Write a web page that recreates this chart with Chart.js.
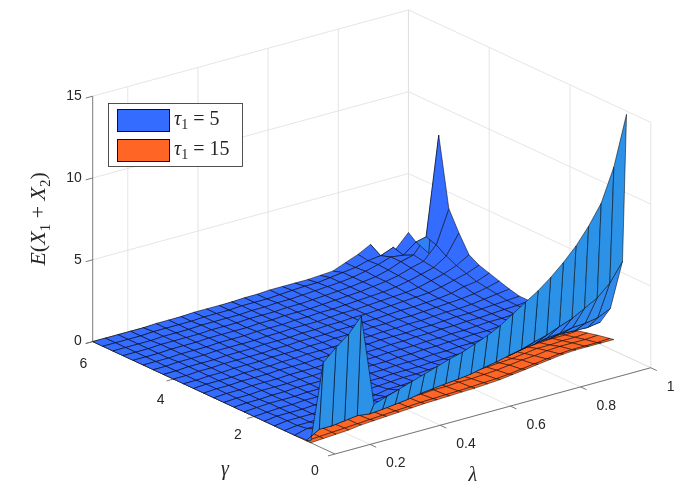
<!DOCTYPE html>
<html>
<head>
<meta charset="utf-8">
<title>E(X1+X2) surface</title>
<script src="https://cdn.jsdelivr.net/npm/chart.js@4.4.1/dist/chart.umd.min.js"></script>
<style>
  html, body { margin: 0; padding: 0; background: #ffffff; }
  #wrap { width: 694px; height: 501px; }
</style>
</head>
<body>
<div id="wrap"><canvas id="surfChart" width="694" height="501"></canvas></div>
<script>
// ======================================
// DATA
// ======================================

const lambdaValues = [0.100, 0.136, 0.172, 0.208, 0.244, 0.280, 0.316, 0.352, 0.388, 0.424,
                      0.460, 0.496, 0.532, 0.568, 0.604, 0.640, 0.676, 0.712, 0.748, 0.784,
                      0.820, 0.856, 0.892, 0.928, 0.964, 1.000];

const gammaValues = [0.6, 0.7, 1.0, 1.25, 1.5, 1.75, 2.0, 2.25, 2.5, 2.75, 3.0, 3.25,
                     3.5, 3.75, 4.0, 4.25, 4.5, 4.75, 5.0, 5.25, 5.5, 5.75, 6.0];

const tauValues = [5, 15];

// E(X1+X2) for tau1 = 5, one row per gamma value, one column per lambda value
const eTau5 = [
  [0.1,4.7,5.4,6.0,6.9,1.3,1.55,1.8,2.05,2.3,2.55,2.8,3.0,3.3,3.6,4.0,4.5,5.0,5.5,6.1,6.8,7.6,8.6,9.8,11.8,14.8],
  [0.05,0.5,0.5,0.6,0.7,0.6,0.67,0.76,0.85,1.0,1.09,1.18,1.25,1.35,1.52,1.66,1.84,2.01,2.25,2.46,2.77,3.05,3.47,3.89,4.59,5.7],
  [0.0,0.2,0.2,0.25,0.3,0.43,0.46,0.49,0.54,0.74,0.77,0.85,0.92,1.01,1.18,1.26,1.34,1.3,1.45,1.57,1.74,1.8,1.95,1.99,2.13,2.48],
  [0.0,0.1,0.1,0.15,0.2,0.34,0.35,0.36,0.39,0.58,0.59,0.65,0.71,0.77,0.93,0.97,1.01,0.93,1.02,1.07,1.2,1.2,1.3,1.26,1.24,1.36],
  [0.0,0.1,0.1,0.1,0.2,0.2,0.2,0.2,0.2,0.35,0.35,0.4,0.45,0.5,0.65,0.7,0.75,0.7,0.78,0.82,0.92,0.9,0.88,0.85,0.9,1.05],
  [0.0,0.1,0.1,0.1,0.15,0.2,0.2,0.2,0.2,0.25,0.3,0.35,0.35,0.4,0.45,0.55,0.55,0.55,0.6,0.65,0.7,0.7,0.7,0.75,0.78,0.9],
  [0.0,0.05,0.1,0.1,0.15,0.15,0.2,0.2,0.2,0.25,0.25,0.3,0.3,0.3,0.35,0.35,0.4,0.4,0.45,0.5,0.5,0.55,0.6,0.65,0.7,0.8],
  [0.0,0.05,0.1,0.1,0.1,0.15,0.15,0.2,0.2,0.2,0.25,0.25,0.3,0.3,0.3,0.35,0.35,0.4,0.4,0.45,0.5,0.5,0.55,0.6,0.65,0.75],
  [0.0,0.05,0.05,0.1,0.1,0.15,0.15,0.15,0.2,0.2,0.25,0.25,0.25,0.3,0.3,0.35,0.35,0.4,0.4,0.45,0.45,0.5,0.55,0.55,0.6,0.7],
  [0.0,0.05,0.05,0.1,0.1,0.1,0.15,0.15,0.2,0.2,0.2,0.25,0.25,0.3,0.3,0.3,0.35,0.35,0.4,0.4,0.45,0.5,0.5,0.55,0.6,0.67],
  [0.0,0.05,0.05,0.1,0.1,0.1,0.15,0.15,0.15,0.2,0.2,0.25,0.25,0.25,0.3,0.3,0.35,0.35,0.4,0.4,0.45,0.45,0.5,0.55,0.58,0.65],
  [0.0,0.05,0.05,0.1,0.1,0.1,0.15,0.15,0.15,0.2,0.2,0.2,0.25,0.25,0.3,0.3,0.3,0.35,0.35,0.4,0.45,0.45,0.5,0.55,0.6,0.65],
  [0.0,0.05,0.05,0.05,0.1,0.1,0.1,0.15,0.15,0.2,0.2,0.2,0.25,0.25,0.25,0.3,0.3,0.35,0.35,0.4,0.45,0.45,0.5,0.6,0.7,0.8],
  [0.0,0.0,0.05,0.05,0.1,0.1,0.1,0.15,0.15,0.15,0.2,0.2,0.25,0.25,0.25,0.3,0.3,0.35,0.35,0.4,0.45,0.5,0.55,0.65,0.8,1.0],
  [0.0,0.0,0.05,0.05,0.1,0.1,0.1,0.1,0.15,0.15,0.2,0.2,0.2,0.25,0.25,0.3,0.3,0.35,0.4,0.4,0.45,0.5,0.6,0.8,0.9,1.2],
  [0.0,0.0,0.05,0.05,0.05,0.1,0.1,0.1,0.15,0.15,0.15,0.2,0.2,0.25,0.25,0.3,0.3,0.35,0.4,0.45,0.5,0.55,0.7,0.9,1.1,1.4],
  [0.0,0.0,0.05,0.05,0.05,0.1,0.1,0.1,0.1,0.15,0.15,0.2,0.2,0.2,0.25,0.3,0.3,0.35,0.4,0.45,0.5,0.6,0.8,1.0,1.3,1.75],
  [0.0,0.0,0.0,0.05,0.05,0.05,0.1,0.1,0.1,0.15,0.15,0.15,0.2,0.2,0.25,0.25,0.3,0.35,0.4,0.45,0.55,0.7,0.9,1.1,1.6,2.8],
  [0.0,0.0,0.0,0.05,0.05,0.05,0.1,0.1,0.1,0.1,0.15,0.15,0.2,0.2,0.2,0.25,0.3,0.35,0.4,0.5,0.6,0.75,1.0,1.2,2.0,4.0],
  [0.0,0.0,0.0,0.05,0.05,0.05,0.05,0.1,0.1,0.1,0.15,0.15,0.15,0.2,0.2,0.25,0.3,0.35,0.4,0.5,0.6,0.8,1.1,1.3,2.2,8.2],
  [0.0,0.0,0.0,0.0,0.05,0.05,0.05,0.1,0.1,0.1,0.1,0.15,0.15,0.2,0.2,0.25,0.3,0.35,0.4,0.5,0.65,0.85,1.1,1.0,1.6,0.7],
  [0.0,0.0,0.0,0.0,0.05,0.05,0.05,0.05,0.1,0.1,0.1,0.15,0.15,0.15,0.2,0.25,0.3,0.3,0.4,0.5,0.6,0.8,0.9,1.2,0.2,0.9],
  [0.0,0.0,0.0,0.0,0.0,0.05,0.05,0.05,0.1,0.1,0.1,0.1,0.15,0.15,0.2,0.2,0.2,0.2,0.25,0.3,0.6,0.9,1.3,0.0,0.6,1.4]
];

// E(X1+X2) for tau1 = 15 (surface stops at lambda = 0.964)
const eTau15 = [
  [0.0,0.05,0.1,0.15,0.25,0.3,0.35,0.4,0.45,0.5,0.52,0.55,0.58,0.6,0.65,0.7,0.8,0.9,1.0,1.1,1.2,1.25,1.25,1.25,1.25],
  [0.0,0.05,0.1,0.15,0.2,0.25,0.3,0.35,0.4,0.45,0.47,0.5,0.52,0.55,0.6,0.63,0.7,0.8,0.9,1.0,1.1,1.15,1.15,1.15,1.2],
  [0.0,0.05,0.1,0.1,0.2,0.2,0.25,0.3,0.35,0.4,0.4,0.45,0.45,0.5,0.5,0.55,0.6,0.7,0.8,0.85,0.95,1.0,1.0,1.0,1.05],
  [0.0,0.05,0.05,0.1,0.15,0.15,0.2,0.25,0.3,0.3,0.35,0.35,0.4,0.4,0.4,0.45,0.5,0.55,0.6,0.7,0.8,0.8,0.85,0.85,0.9],
  [0.0,0.05,0.05,0.1,0.1,0.15,0.15,0.2,0.2,0.25,0.25,0.3,0.3,0.3,0.35,0.35,0.4,0.45,0.5,0.55,0.6,0.65,0.7,0.7,0.75],
  [0.0,0.05,0.05,0.1,0.1,0.1,0.15,0.15,0.2,0.2,0.2,0.25,0.25,0.25,0.3,0.3,0.35,0.35,0.4,0.45,0.5,0.5,0.55,0.6,0.65],
  [0.0,0.0,0.05,0.05,0.1,0.1,0.1,0.15,0.15,0.15,0.2,0.2,0.2,0.25,0.25,0.3,0.3,0.3,0.35,0.4,0.4,0.45,0.5,0.5,0.55],
  [0.0,0.0,0.05,0.05,0.1,0.1,0.1,0.1,0.15,0.15,0.2,0.2,0.2,0.2,0.25,0.25,0.3,0.3,0.35,0.35,0.4,0.4,0.45,0.5,0.5],
  [0.0,0.0,0.05,0.05,0.05,0.1,0.1,0.1,0.15,0.15,0.15,0.2,0.2,0.2,0.25,0.25,0.25,0.3,0.3,0.35,0.35,0.4,0.45,0.45,0.5],
  [0.0,0.0,0.05,0.05,0.05,0.1,0.1,0.1,0.1,0.15,0.15,0.15,0.2,0.2,0.2,0.25,0.25,0.3,0.3,0.3,0.35,0.4,0.4,0.45,0.45],
  [0.0,0.0,0.0,0.05,0.05,0.05,0.1,0.1,0.1,0.15,0.15,0.15,0.2,0.2,0.2,0.2,0.25,0.25,0.3,0.3,0.35,0.35,0.4,0.4,0.45],
  [0.0,0.0,0.0,0.05,0.05,0.05,0.1,0.1,0.1,0.1,0.15,0.15,0.15,0.2,0.2,0.2,0.25,0.25,0.3,0.3,0.3,0.35,0.35,0.4,0.4],
  [0.0,0.0,0.0,0.05,0.05,0.05,0.05,0.1,0.1,0.1,0.15,0.15,0.15,0.15,0.2,0.2,0.2,0.25,0.25,0.3,0.3,0.3,0.35,0.35,0.4],
  [0.0,0.0,0.0,0.0,0.05,0.05,0.05,0.1,0.1,0.1,0.1,0.15,0.15,0.15,0.2,0.2,0.2,0.25,0.25,0.25,0.3,0.3,0.35,0.35,0.4],
  [0.0,0.0,0.0,0.0,0.05,0.05,0.05,0.1,0.1,0.1,0.1,0.1,0.15,0.15,0.15,0.2,0.2,0.2,0.25,0.25,0.3,0.3,0.3,0.35,0.35],
  [0.0,0.0,0.0,0.0,0.05,0.05,0.05,0.05,0.1,0.1,0.1,0.1,0.15,0.15,0.15,0.2,0.2,0.2,0.25,0.25,0.25,0.3,0.3,0.35,0.35],
  [0.0,0.0,0.0,0.0,0.0,0.05,0.05,0.05,0.1,0.1,0.1,0.1,0.1,0.15,0.15,0.15,0.2,0.2,0.2,0.25,0.25,0.3,0.3,0.3,0.35],
  [0.0,0.0,0.0,0.0,0.0,0.05,0.05,0.05,0.05,0.1,0.1,0.1,0.1,0.15,0.15,0.15,0.2,0.2,0.2,0.25,0.25,0.25,0.3,0.3,0.3],
  [0.0,0.0,0.0,0.0,0.0,0.05,0.05,0.05,0.05,0.1,0.1,0.1,0.1,0.1,0.15,0.15,0.15,0.2,0.2,0.2,0.25,0.25,0.25,0.3,0.3],
  [0.0,0.0,0.0,0.0,0.0,0.0,0.05,0.05,0.05,0.05,0.1,0.1,0.1,0.1,0.15,0.15,0.15,0.15,0.2,0.2,0.2,0.25,0.25,0.25,0.3],
  [0.0,0.0,0.0,0.0,0.0,0.0,0.05,0.05,0.05,0.05,0.1,0.1,0.1,0.1,0.1,0.15,0.15,0.15,0.2,0.2,0.2,0.2,0.25,0.25,0.3],
  [0.0,0.0,0.0,0.0,0.0,0.0,0.05,0.05,0.05,0.05,0.05,0.1,0.1,0.1,0.1,0.15,0.15,0.15,0.15,0.2,0.2,0.2,0.25,0.25,0.25],
  [0.0,0.0,0.0,0.0,0.0,0.0,0.0,0.05,0.05,0.05,0.05,0.1,0.1,0.1,0.1,0.1,0.15,0.15,0.15,0.15,0.2,0.2,0.2,0.2,0.25]
];

const lambdaTicks = [0.2, 0.4, 0.6, 0.8, 1];
const gammaTicks = [0, 2, 4, 6];
const eTicks = [0, 5, 10, 15];

const lambdaRange = [0.1, 1];
const gammaRange = [0, 6];
const eRange = [0, 15];

// ======================================
// VIEW / STYLE
// ======================================

const view = { az: 37.5, el: 30, box: 398, squeeze: 0.712, originX: 335, originY: 454 };

const blueTop = [52, 108, 255], blueUnder = [44, 146, 232];
const orangeTop = [255, 102, 38], orangeUnder = [255, 146, 72];
const gridColor = "#dedede";
const axisColor = "#6b6b6b";
const textColor = "#262626";

// ======================================
// 3D -> 2D
// ======================================

const rad = Math.PI / 180;
const sinA = Math.sin(view.az * rad), cosA = Math.cos(view.az * rad);
const sinE = Math.sin(view.el * rad), cosE = Math.cos(view.el * rad);
const toViewer = [-sinA * cosE, -cosA * cosE, sinE];

function toBox(lam, gam, e){
    return [
        (lam - lambdaRange[0]) / (lambdaRange[1] - lambdaRange[0]),
        (gam - gammaRange[0]) / (gammaRange[1] - gammaRange[0]),
        (e - eRange[0]) / (eRange[1] - eRange[0])
    ];
}

function project(lam, gam, e){
    const b = toBox(lam, gam, e);
    const right = view.box * (b[0] * cosA - b[1] * sinA);
    const up = view.box * view.squeeze * ((b[0] * sinA + b[1] * cosA) * sinE + b[2] * cosE);
    return { x: view.originX + right, y: view.originY - up };
}

// larger = closer to the viewer
function nearness(lam, gam, e){
    const b = toBox(lam, gam, e);
    return toViewer[0] * b[0] + toViewer[1] * b[1] + toViewer[2] * b[2];
}

function mixColor(a, b, t){
    return "rgb(" + a.map(function(v, k){ return Math.round(v + (b[k] - v) * t); }).join(",") + ")";
}

// ======================================
// SURFACE PATCHES
// ======================================

function surfacePatches(lams, gams, rows, topColor, underColor){

    let patches = [];

    for(let j = 0; j < gams.length - 1; j++){
        for(let i = 0; i < lams.length - 1; i++){

            const corners = [[i, j], [i + 1, j], [i + 1, j + 1], [i, j + 1]].map(function(c){
                return [lams[c[0]], gams[c[1]], rows[c[1]][c[0]]];
            });

            const p = corners.map(function(c){ return toBox(c[0], c[1], c[2]); });
            const d1 = [p[2][0] - p[0][0], p[2][1] - p[0][1], p[2][2] - p[0][2]];
            const d2 = [p[3][0] - p[1][0], p[3][1] - p[1][1], p[3][2] - p[1][2]];
            let n = [d1[1] * d2[2] - d1[2] * d2[1], d1[2] * d2[0] - d1[0] * d2[2], d1[0] * d2[1] - d1[1] * d2[0]];
            const len = Math.hypot(n[0], n[1], n[2]) || 1;
            if(n[2] < 0){ n = n.map(function(v){ return -v; }); }
            const facing = (n[0] * toViewer[0] + n[1] * toViewer[1] + n[2] * toViewer[2]) / len;

            // the underside shows lighter, like the reference
            let t = 0;
            if(facing < 0){
                t = Math.min(1, 0.15 + 1.8 * (-facing));
            }

            let depth = 0;
            corners.forEach(function(c){ depth += nearness(c[0], c[1], c[2]) / 4; });

            const pts = corners.map(function(c){ return project(c[0], c[1], c[2]); });
            pts.push(pts[0]);

            patches.push({ depth: depth, color: mixColor(topColor, underColor, t), points: pts });
        }
    }

    patches.sort(function(a, b){ return a.depth - b.depth; });
    return patches;
}

// ======================================
// BUILD DATASETS (in painting order)
// ======================================

let drawOrder = [];

function addLine(a, b, color, width){
    drawOrder.push({
        data: [project(a[0], a[1], a[2]), project(b[0], b[1], b[2])],
        showLine: true, fill: false, borderColor: color, borderWidth: width, pointRadius: 0
    });
}

// back walls and floor grid
lambdaTicks.forEach(function(l){
    addLine([l, gammaRange[1], eRange[0]], [l, gammaRange[1], eRange[1]], gridColor, 0.8);
    addLine([l, gammaRange[0], eRange[0]], [l, gammaRange[1], eRange[0]], gridColor, 0.8);
});
gammaTicks.forEach(function(g){
    addLine([lambdaRange[1], g, eRange[0]], [lambdaRange[1], g, eRange[1]], gridColor, 0.8);
    addLine([lambdaRange[0], g, eRange[0]], [lambdaRange[1], g, eRange[0]], gridColor, 0.8);
});
eTicks.forEach(function(e){
    addLine([lambdaRange[0], gammaRange[1], e], [lambdaRange[1], gammaRange[1], e], gridColor, 0.8);
    addLine([lambdaRange[1], gammaRange[0], e], [lambdaRange[1], gammaRange[1], e], gridColor, 0.8);
});

// axis lines and ticks
addLine([lambdaRange[0], gammaRange[1], eRange[0]], [lambdaRange[0], gammaRange[1], eRange[1]], axisColor, 0.9);
addLine([lambdaRange[0], gammaRange[0], eRange[0]], [lambdaRange[1], gammaRange[0], eRange[0]], axisColor, 0.9);
addLine([lambdaRange[0], gammaRange[0], eRange[0]], [lambdaRange[0], gammaRange[1], eRange[0]], axisColor, 0.9);

eTicks.forEach(function(e){
    addLine([lambdaRange[0], gammaRange[1], e], [lambdaRange[0] - 0.02, gammaRange[1], e], axisColor, 0.9);
});
lambdaTicks.forEach(function(l){
    addLine([l, gammaRange[0], eRange[0]], [l, gammaRange[0] - 0.15, eRange[0]], axisColor, 0.9);
});
gammaTicks.forEach(function(g){
    addLine([lambdaRange[0], g, eRange[0]], [lambdaRange[0] - 0.02, g, eRange[0]], axisColor, 0.9);
});

// tau1 = 15 first (it lies underneath), then tau1 = 5
const orangePatches = surfacePatches(lambdaValues.slice(0, eTau15[0].length), gammaValues, eTau15, orangeTop, orangeUnder);
const bluePatches = surfacePatches(lambdaValues, gammaValues, eTau5, blueTop, blueUnder);

orangePatches.concat(bluePatches).forEach(function(p){
    drawOrder.push({
        data: p.points,
        showLine: true,
        fill: "shape",
        backgroundColor: p.color,
        borderColor: "rgba(0,0,0,0.88)",
        borderWidth: 0.6,
        borderJoinStyle: "bevel",
        pointRadius: 0
    });
});

// Chart.js paints the last dataset first
const datasets = drawOrder.slice().reverse();

// ======================================
// TEXT: TICK LABELS, AXIS TITLES, LEGEND
// ======================================

function fontFor(style, size){
    if(style == "i") return "italic " + size + "px 'Liberation Serif', 'DejaVu Serif', serif";
    if(style == "s") return Math.round(size * 0.7) + "px 'Liberation Serif', 'DejaVu Serif', serif";
    return size + "px 'Liberation Serif', 'DejaVu Serif', serif";
}

function drawMath(ctx, parts, x, y, size, align){
    let widths = parts.map(function(p){ ctx.font = fontFor(p[1], size); return ctx.measureText(p[0]).width; });
    let total = widths.reduce(function(a, b){ return a + b; }, 0);
    let cx = align == "center" ? x - total / 2 : x;
    parts.forEach(function(p, k){
        ctx.font = fontFor(p[1], size);
        ctx.fillText(p[0], cx, p[1] == "s" ? y + size * 0.28 : y);
        cx += widths[k];
    });
}

const textPlugin = {
    id: "axisText",
    afterDraw: function(chart){

        const ctx = chart.ctx;
        const sx = chart.scales.x, sy = chart.scales.y;
        function px(p){ return { x: sx.getPixelForValue(p.x), y: sy.getPixelForValue(p.y) }; }

        ctx.save();
        ctx.fillStyle = textColor;
        ctx.textBaseline = "middle";
        ctx.font = "14px 'Liberation Sans', Arial, sans-serif";

        ctx.textAlign = "right";
        eTicks.forEach(function(e){
            const p = px(project(lambdaRange[0], gammaRange[1], e));
            ctx.fillText(String(e), p.x - 11, p.y);
        });

        ctx.textAlign = "center";
        gammaTicks.forEach(function(g){
            const p = px(project(lambdaRange[0], g, eRange[0]));
            ctx.fillText(String(g), p.x - 20 + 1.8 * g, p.y + 17 + 0.9 * g);
        });

        ctx.textAlign = "left";
        lambdaTicks.forEach(function(l){
            const p = px(project(l, gammaRange[0], eRange[0]));
            ctx.fillText(String(l), p.x + 16, p.y + 19);
        });

        // axis titles
        ctx.textAlign = "left";
        const lt = px(project(0.55, gammaRange[0], eRange[0]));
        drawMath(ctx, [["\u03bb", "i"]], lt.x - 20, lt.y + 65, 20, "center");
        const gt = px(project(lambdaRange[0], 3, eRange[0]));
        drawMath(ctx, [["\u03b3", "i"]], gt.x + 11, gt.y + 72, 20, "center");

        const et = px(project(lambdaRange[0], gammaRange[1], 7.5));
        ctx.save();
        ctx.translate(et.x - 53, et.y);
        ctx.rotate(-Math.PI / 2);
        drawMath(ctx, [["E", "i"], ["(", "r"], ["X", "i"], ["1", "s"], [" + ", "r"], ["X", "i"], ["2", "s"], [")", "r"]], 0, 0, 22, "center");
        ctx.restore();

        // legend
        const lg = { x: 108, y: 103, w: 134, h: 63 };
        ctx.fillStyle = "#ffffff";
        ctx.fillRect(lg.x, lg.y, lg.w, lg.h);
        ctx.strokeStyle = "#262626";
        ctx.lineWidth = 0.8;
        ctx.strokeRect(lg.x + 0.5, lg.y + 0.5, lg.w, lg.h);

        const swatches = [blueTop, orangeTop];
        tauValues.forEach(function(t, k){
            const top = lg.y + 6 + k * 30;
            ctx.fillStyle = "rgb(" + swatches[k].join(",") + ")";
            ctx.fillRect(lg.x + 9, top, 52, 22);
            ctx.strokeStyle = "#111111";
            ctx.lineWidth = 1;
            ctx.strokeRect(lg.x + 9.5, top + 0.5, 52, 22);
            ctx.fillStyle = textColor;
            ctx.textAlign = "left";
            drawMath(ctx, [["\u03c4", "i"], ["1", "s"], [" = " + t, "r"]], lg.x + 66, top + 11, 20, "left");
        });

        ctx.restore();
    }
};

// ======================================
// CHART
// ======================================

new Chart(document.getElementById("surfChart"), {

    type: "scatter",

    data: { datasets: datasets },

    options: {
        responsive: false,
        animation: false,
        events: [],
        layout: { padding: 0 },
        elements: { point: { radius: 0 }, line: { tension: 0 } },
        scales: {
            x: { type: "linear", min: 0, max: 694, display: false },
            y: { type: "linear", min: 0, max: 501, reverse: true, display: false }
        },
        plugins: {
            legend: { display: false },
            tooltip: { enabled: false }
        }
    },

    plugins: [textPlugin]

});
</script>
</body>
</html>
